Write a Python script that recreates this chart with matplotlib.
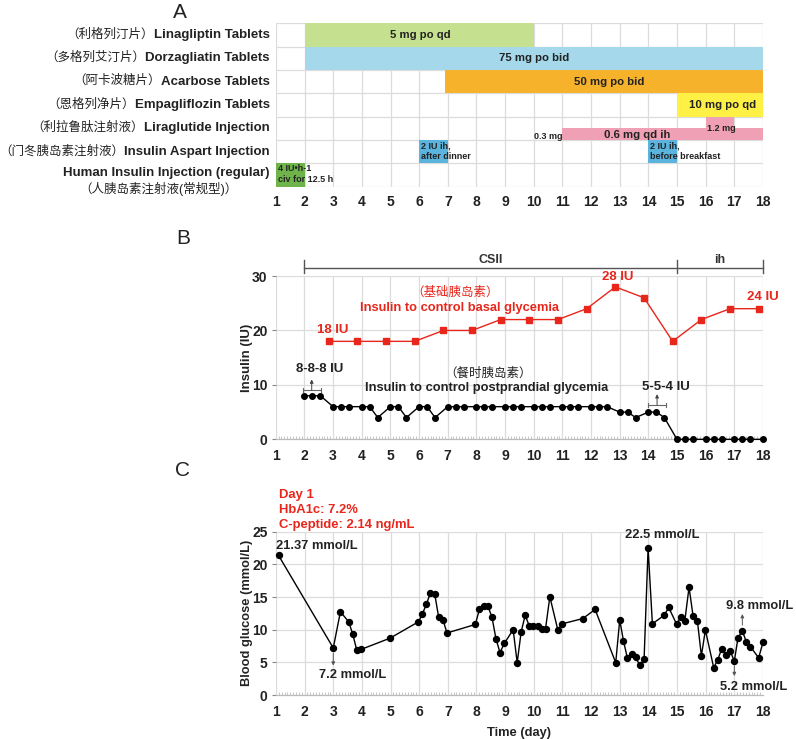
import matplotlib
matplotlib.use('Agg')
import matplotlib.pyplot as plt
import numpy as np

plt.rcParams['font.family'] = ['Liberation Sans', 'Noto Sans CJK SC']
plt.rcParams['axes.unicode_minus'] = False

# ---------------- A : medication ----------------
drug_en = ['Linagliptin Tablets', 'Dorzagliatin Tablets', 'Acarbose Tablets',
           'Empagliflozin Tablets', 'Liraglutide Injection',
           'Insulin Aspart Injection', 'Human Insulin Injection (regular)']
drug_cn = ['（利格列汀片）', '（多格列艾汀片）', '（阿卡波糖片）', '（恩格列净片）',
           '（利拉鲁肽注射液）', '（门冬胰岛素注射液）', '（人胰岛素注射液(常规型)）']
bar_row = [0, 1, 2, 3, 4, 4, 5, 5, 6]
bar_start = [2, 2, 6.9, 15, 11, 16, 6, 14, 1]
bar_end = [10, 18, 18, 18, 18, 17, 7, 15, 2]
bar_text = ['5 mg po qd', '75 mg po bid', '50 mg po bid', '10 mg po qd',
            '0.6 mg qd ih', '1.2 mg', '2 IU ih,\nafter dinner',
            '2 IU ih,\nbefore breakfast', '4 IU•h-1\nciv for 12.5 h']

# ---------------- B : insulin dose ----------------
basal_day = [2.85, 3.85, 4.85, 5.85, 6.85, 7.85, 8.85, 9.85, 10.85, 11.85,
             12.85, 13.85, 14.85, 15.85, 16.85, 17.85]
basal_iu = [18, 18, 18, 18, 20, 20, 22, 22, 22, 24, 28, 26, 18, 22, 24, 24]
bolus_days = list(range(2, 19))
meal_offset = [0, 0.28, 0.56]
bolus_iu = [[8, 8, 8], [6, 6, 6], [6, 6, 4], [6, 6, 4], [6, 6, 4], [6, 6, 6],
            [6, 6, 6], [6, 6, 6], [6, 6, 6], [6, 6, 6], [6, 6, 6], [5, 5, 4],
            [5, 5, 4], [0, 0, 0], [0, 0, 0], [0, 0, 0], [0]]

# ---------------- C : blood glucose ----------------
gluc_t = [1.09, 3.0, 3.25, 3.54, 3.68, 3.82, 3.98, 4.98, 5.97, 6.11, 6.25, 6.39,
          6.54, 6.68, 6.83, 6.97, 7.96, 8.1, 8.25, 8.4, 8.54, 8.68, 8.82, 8.97,
          9.28, 9.42, 9.56, 9.7, 9.84, 9.98, 10.13, 10.27, 10.41, 10.56, 10.84,
          10.99, 11.71, 12.14, 12.86, 13.0, 13.13, 13.27, 13.42, 13.56, 13.7,
          13.85, 13.99, 14.14, 14.55, 14.71, 14.99, 15.13, 15.27, 15.42, 15.56,
          15.71, 15.85, 15.99, 16.28, 16.42, 16.56, 16.71, 16.85, 17.0, 17.13,
          17.28, 17.42, 17.56, 17.85, 18.0]
gluc = [21.37, 7.2, 12.75, 11.2, 9.3, 6.9, 7.0, 8.7, 11.2, 12.4, 13.9, 15.6,
        15.5, 11.9, 11.5, 9.5, 10.8, 13.1, 13.6, 13.6, 11.9, 8.6, 6.5, 7.9,
        10.0, 4.95, 9.7, 12.2, 10.6, 10.6, 10.6, 10.15, 10.15, 15.05, 9.95,
        10.9, 11.7, 13.1, 4.95, 11.5, 8.3, 5.6, 6.3, 5.75, 4.55,
        5.45, 22.5, 10.9, 12.2, 13.4, 10.8, 12.0, 11.3, 16.5, 12.1,
        11.4, 6.0, 9.95, 4.2, 5.35, 7.1, 6.2, 6.8, 5.2, 8.8,
        9.8, 8.15, 7.4, 5.7, 8.05]

days = list(range(1, 19))
gridc = '#dcdcdc'
txtc = '#222222'
red = '#e8261c'

fig = plt.figure(figsize=(7.96, 7.39), dpi=100)

# ===== panel A =====
axA = fig.add_axes([0.3467, 0.7474, 0.6118, 0.2211])
bar_color = ['#c5e08e', '#a4d8ea', '#f7b22c', '#fff046', '#f0a0b4', '#f0a0b4',
             '#5ab4de', '#5ab4de', '#6eb44b']
bar_h = [1, 1, 1, 1, 0.5, 1, 1, 1, 1]
bar_off = [0, 0, 0, 0, 0.25, 0, 0, 0, 0]
for r, s, e, c, h, o in zip(bar_row, bar_start, bar_end, bar_color, bar_h, bar_off):
    axA.barh(r + o, e - s, left=s, height=h, color=c, zorder=2, linewidth=0)

# text on bars
big = dict(fontsize=8.2, fontweight='bold', color=txtc, zorder=3)
small = dict(fontsize=6.5, fontweight='bold', color=txtc, zorder=3)
axA.text(6.03, 0, bar_text[0], ha='center', va='center', **big)
axA.text(10, 1, bar_text[1], ha='center', va='center', **big)
axA.text(12.64, 2, bar_text[2], ha='center', va='center', **big)
axA.text(16.6, 3, bar_text[3], ha='center', va='center', **big)
axA.text(13.62, 4.27, bar_text[4], ha='center', va='center', **big)
axA.text(16.55, 4.02, bar_text[5], ha='center', va='center', **small)
axA.text(10.5, 4.35, '0.3 mg', ha='center', va='center', **small)
axA.text(6.05, 5.0, bar_text[6], ha='left', va='center', linespacing=1.2, **small)
axA.text(14.05, 5.0, bar_text[7], ha='left', va='center', linespacing=1.2, **small)
axA.text(1.06, 5.95, bar_text[8], ha='left', va='center', linespacing=1.2, **small)

# drug names (bold english, regular chinese)
for i, (en, cn) in enumerate(zip(drug_en, drug_cn)):
    y = i if i < 6 else 5.93
    t = axA.annotate(en, xy=(0, y), xycoords=('axes fraction', 'data'),
                     xytext=(-4.5, 0), textcoords='offset points',
                     ha='right', va='center', fontsize=9.5, fontweight='bold',
                     color=txtc, annotation_clip=False)
    if i < 6:
        axA.annotate(cn, xy=(0, 0.5), xycoords=t, xytext=(0, 0.5),
                     textcoords='offset points', ha='right', va='center',
                     fontsize=9, color=txtc)
    else:
        axA.annotate(cn, xy=(0.5, 0), xycoords=t, xytext=(-6, -2),
                     textcoords='offset points', ha='center', va='top',
                     fontsize=9, color=txtc)

axA.set_xlim(1, 18)
axA.set_ylim(6.5, -0.5)
axA.set_xticks(days)
axA.set_yticks([])
axA.set_yticks(np.arange(-0.5, 7, 1), minor=True)
axA.grid(axis='x', color=gridc, lw=0.9, zorder=0)
axA.grid(axis='y', which='minor', color=gridc, lw=0.9, zorder=0)
axA.tick_params(axis='x', length=0, pad=6, labelsize=10)
axA.tick_params(axis='y', which='both', length=0)
for lab in axA.get_xticklabels():
    lab.set_fontweight('bold')
    lab.set_color(txtc)
for s in axA.spines.values():
    s.set_visible(False)


def style_line_axes(ax):
    ax.set_xlim(1, 18)
    ax.set_xticks(days)
    ax.set_xticks(np.arange(1, 18.01, 0.1), minor=True)
    ax.grid(axis='both', which='major', color=gridc, lw=0.9, zorder=0)
    ax.tick_params(axis='x', which='major', length=0, pad=7, labelsize=10)
    ax.tick_params(axis='x', which='minor', direction='in', length=2.5,
                   color='#bbbbbb', width=0.6)
    ax.tick_params(axis='y', which='major', length=3, color='#888888',
                   labelsize=10, pad=3)
    for lab in ax.get_xticklabels() + ax.get_yticklabels():
        lab.set_fontweight('bold')
        lab.set_color(txtc)
    for k in ['top', 'right', 'left']:
        ax.spines[k].set_visible(False)
    ax.spines['bottom'].set_color('#bbbbbb')
    ax.spines['bottom'].set_linewidth(0.9)


# ===== panel B =====
axB = fig.add_axes([0.3464, 0.4055, 0.6121, 0.2210])
bx, by = [], []
for d, vals in zip(bolus_days, bolus_iu):
    for m, v in zip(meal_offset, vals):
        bx.append(d + m)
        by.append(v)
axB.plot(bx, by, '-o', color='black', lw=1, ms=4, clip_on=False, zorder=4)
axB.plot(basal_day, basal_iu, '-s', color=red, lw=1, ms=4, clip_on=False,
         zorder=4)
axB.set_ylim(0, 30)
axB.set_yticks([0, 10, 20, 30])
style_line_axes(axB)
axB.set_ylabel('Insulin (IU)', fontsize=9.5, fontweight='bold', color=txtc,
               labelpad=-0.5)

# therapy bracket
bc = '#555555'
axB.plot([2, 18], [31.5, 31.5], color=bc, lw=1, clip_on=False)
for xb in [2, 15, 18]:
    axB.plot([xb, xb], [30.5, 33.0], color=bc, lw=1, clip_on=False)
axB.text(8.5, 33.0, 'CSII', ha='center', va='center', fontsize=9,
         fontweight='bold', color='#333333')
axB.text(16.5, 33.0, 'ih', ha='center', va='center', fontsize=9,
         fontweight='bold', color='#333333')

axB.text(3.0, 20.1, '18 IU', ha='center', va='center', fontsize=9.5,
         fontweight='bold', color=red)
axB.text(12.92, 29.9, '28 IU', ha='center', va='center', fontsize=9.5,
         fontweight='bold', color=red)
axB.text(18.0, 26.2, '24 IU', ha='center', va='center', fontsize=9.5,
         fontweight='bold', color=red)
axB.text(7.25, 26.9, '（基础胰岛素）', ha='center', va='center', fontsize=9,
         color=red)
axB.text(7.4, 24.2, 'Insulin to control basal glycemia', ha='center',
         va='center', fontsize=9.3, fontweight='bold', color=red)
axB.text(8.4, 12.0, '（餐时胰岛素）', ha='center', va='center', fontsize=9,
         color=txtc)
axB.text(8.37, 9.4, 'Insulin to control postprandial glycemia', ha='center',
         va='center', fontsize=9.3, fontweight='bold', color=txtc)

# small dose brackets
for x0, x1, yb, ytop, lbl, xl, yl in [(1.94, 2.57, 9.06, 11.0, '8-8-8 IU', 2.53, 12.9),
                                      (13.98, 14.63, 6.3, 8.3, '5-5-4 IU', 14.6, 9.67)]:
    axB.plot([x0, x1], [yb, yb], color='#666666', lw=0.8)
    for xe in (x0, x1):
        axB.plot([xe, xe], [yb - 0.45, yb + 0.45], color='#666666', lw=0.8)
    xm = (x0 + x1) / 2
    axB.annotate('', xy=(xm, ytop), xytext=(xm, yb),
                 arrowprops=dict(arrowstyle='-|>', color='#444444', lw=0.7,
                                 mutation_scale=5, shrinkA=0, shrinkB=0))
    axB.text(xl, yl, lbl, ha='center', va='center', fontsize=9.5,
             fontweight='bold', color=txtc)

# ===== panel C =====
axC = fig.add_axes([0.3467, 0.0595, 0.6118, 0.2210])
axC.plot(gluc_t, gluc, '-o', color='black', lw=1, ms=4.3, clip_on=False,
         zorder=4)
axC.set_ylim(0, 25)
axC.set_yticks([0, 5, 10, 15, 20, 25])
style_line_axes(axC)
axC.set_ylabel('Blood glucose (mmol/L)', fontsize=9.3, fontweight='bold',
               color=txtc, labelpad=-0.5)
axC.set_xlabel('Time (day)', fontsize=9.3, fontweight='bold', color=txtc,
               labelpad=6)

ann = dict(fontsize=9.3, fontweight='bold', color=txtc)
axC.text(1.0, 22.8, '21.37 mmol/L', ha='left', va='center', **ann)
axC.text(3.69, 3.06, '7.2 mmol/L', ha='center', va='center', **ann)
axC.text(14.5, 24.5, '22.5 mmol/L', ha='center', va='center', **ann)
axC.text(17.9, 13.7, '9.8 mmol/L', ha='center', va='center', **ann)
axC.text(17.68, 1.18, '5.2 mmol/L', ha='center', va='center', **ann)
arr = dict(arrowstyle='-|>', color='#555555', lw=0.7, mutation_scale=5,
           shrinkA=0, shrinkB=0)
axC.annotate('', xy=(3.0, 4.5), xytext=(3.0, 6.4), arrowprops=arr)
axC.annotate('', xy=(17.28, 12.4), xytext=(17.28, 10.7), arrowprops=arr)
axC.annotate('', xy=(17.0, 2.9), xytext=(17.0, 4.5), arrowprops=arr)

fig.text(279 / 796, 1 - 489 / 739, 'Day 1\nHbA1c: 7.2%\nC-peptide: 2.14 ng/mL',
         ha='left', va='top', fontsize=9.4, fontweight='bold', color=red,
         linespacing=1.32)

# panel letters
for lbl, px, py in [('A', 180, 12), ('B', 183, 238), ('C', 183, 471)]:
    fig.text(px / 796, 1 - py / 739, lbl, ha='center', va='center',
             fontsize=15, color=txtc)

fig.savefig('out.png', dpi=100)
